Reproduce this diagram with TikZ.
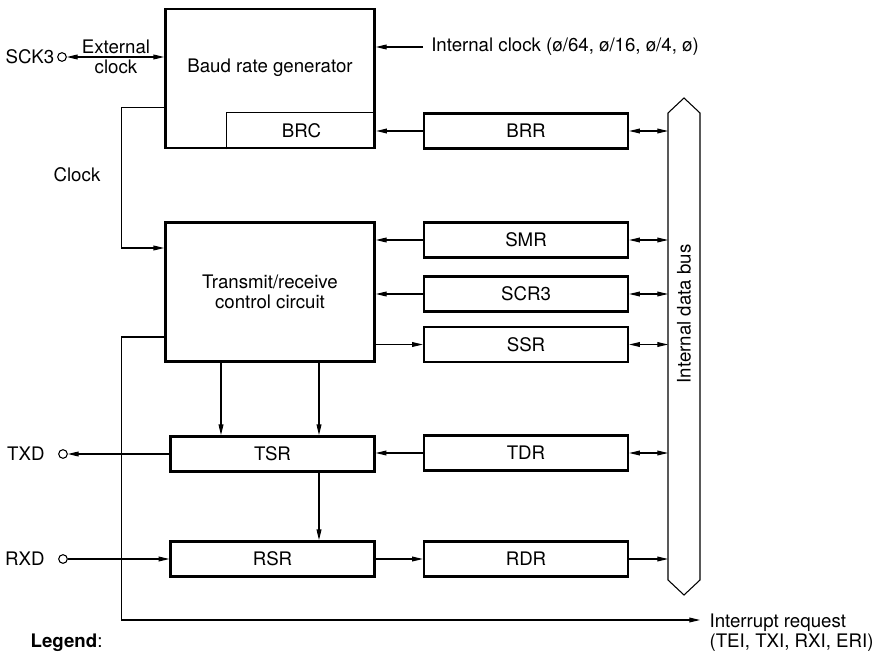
\documentclass[tikz,border=0pt]{standalone}
\usepackage{fontspec}
\setmainfont{TeX Gyre Heros}
\usetikzlibrary{arrows.meta,positioning}

\begin{document}
\begin{tikzpicture}[x=0.75pt, y=-0.75pt,
    font=\fontsize{14pt}{15pt}\selectfont,
    block/.style={draw, line width=1.8pt, minimum width=157pt,
                  minimum height=104pt},
    reg/.style={draw, line width=1.8pt, minimum width=153pt,
                minimum height=26.5pt},
    port/.style={draw, circle, line width=0.8pt, minimum size=6.5pt,
                 inner sep=0pt},
    lbl/.style={inner sep=2pt},
    arr/.style={-{Triangle[length=8pt, width=3.6pt]}, line width=0.8pt},
    biarr/.style={{Triangle[length=8pt, width=3.6pt]}-{Triangle[length=8pt, width=3.6pt]},
                  line width=0.8pt}
]
\useasboundingbox (0,0) rectangle (877,652);
% blocks
\node[minimum width=111.75pt, minimum height=27pt] (brc) at (301.5,131) {BRC};
\draw[line width=0.8pt] (brc.south west) |- (brc.north east);
\node[block] (brg) at (270,78.5) {};
\node[lbl] at (270,68) {Baud rate generator};
\node[block, align=center] (trc) at (270,292) {Transmit/receive\\control circuit};
% registers
\node[reg] (brr) at (526,131) {BRR};
\node[reg] (smr) at (526,240) {SMR};
\node[reg] (scr) at (526,294) {SCR3};
\node[reg] (ssr) at (526,344.5) {SSR};
\node[reg] (tdr) at (526,453) {TDR};
\node[reg] (rdr) at (526,559) {RDR};
\node[reg] (tsr) at (272.5,454) {TSR};
\node[reg] (rsr) at (272.5,559) {RSR};
% internal data bus
\draw[line width=0.8pt] (668,113) -- (684,98) -- (700,113) -- (700,580)
    -- (684,595) -- (668,580) -- cycle;
\coordinate (busL) at (668,0);
\node[lbl, rotate=90] (bus) at (684,314) {Internal data bus};
% ports
\node[port] (sck) at (62,57) {};
\node[port] (txd) at (63,454) {};
\node[port] (rxd) at (63,559) {};
\node[lbl, left=0pt of sck] {SCK3};
\node[lbl, left=8pt of txd] {TXD};
\node[lbl, left=8pt of rxd] {RXD};
% labels
\node[lbl, align=center] (ext) at (116,57) {External\\clock};
\node[lbl] at (77,175) {Clock};
\node[lbl, anchor=west, inner xsep=6pt] (intclk) at (423,47)
     {Internal clock (ø/64, ø/16, ø/4, ø)};
\coordinate (irqtip) at (700,620);
\node[lbl, align=left, anchor=north west, xshift=5pt, yshift=7pt] (irq)
     at (irqtip) {Interrupt request\\(TEI, TXI, RXI, ERI)};
\node[anchor=base west] (legend) at (26,647) {\textbf{Legend}:};
% connectors
\draw[biarr] (sck.east) -- (sck.east -| brg.west);
\draw[arr] (intclk.west) -- (intclk.west -| brg.east);
\draw[arr] (brr.west) -- (brc.east);
\draw[arr] ([yshift=-22pt]brg.west) -- ++(-43,0) |- ([yshift=33pt]trc.west);
\draw[arr] ([yshift=-33.75pt]trc.west) -- ++(-43,0) |- (irqtip);
\draw[arr] (smr.west) -- (smr.west -| trc.east);
\draw[arr] (scr.west) -- (scr.west -| trc.east);
\draw[arr] (ssr.west -| trc.east) -- (ssr.west);
\coordinate (tx1) at (221,0);
\coordinate (tx2) at (319,0);
\draw[arr] (tx1 |- trc.south) -- (tx1 |- tsr.north);
\draw[arr] (tx2 |- trc.south) -- (tx2 |- tsr.north);
\draw[arr] (tx2 |- tsr.south) -- (tx2 |- rsr.north);
\draw[arr] (tdr.west) -- (tdr.west -| tsr.east);
\draw[arr] (tsr.west) -- (txd);
\draw[arr] (rxd) -- (rsr.west);
\draw[arr] (rsr.east) -- (rdr.west);
\foreach \r in {brr,smr,scr,ssr,tdr}
    \draw[biarr] (\r.east) -- (\r.east -| busL);
\draw[arr] (rdr.east) -- (rdr.east -| busL);
\end{tikzpicture}
\end{document}
